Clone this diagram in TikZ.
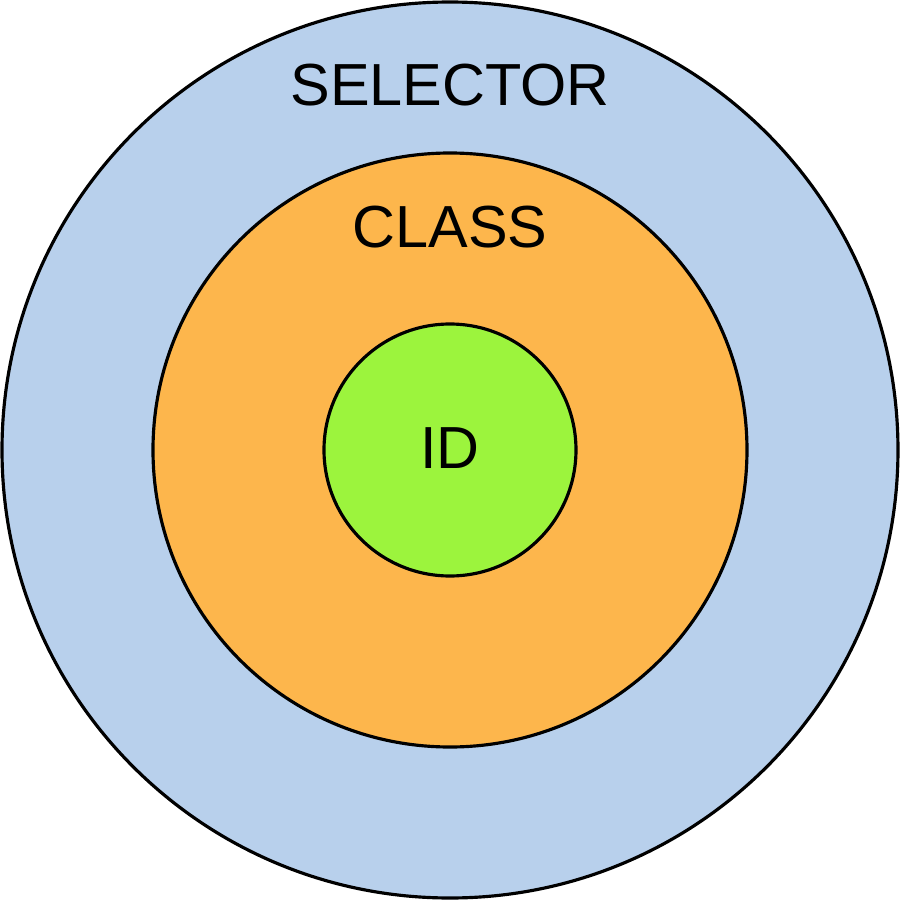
\documentclass[tikz,border=0pt]{standalone}
\usepackage{fontspec}
\setmainfont{Liberation Sans}
\definecolor{selblue}{RGB}{184,208,236}
\definecolor{clsorange}{RGB}{253,182,76}
\definecolor{idgreen}{RGB}{156,244,61}
\tikzset{ring/.style={draw=black,line width=0.9pt},
  lbl/.style={font=\fontsize{16.9}{20}\selectfont,inner sep=0pt}}
\begin{document}
\begin{tikzpicture}
\useasboundingbox (-4.5,-4.5) rectangle (4.5,4.5);
\fill[selblue,ring] (0,0) circle (4.48);
\fill[clsorange,ring] (0,0) circle (2.97);
\fill[idgreen,ring] (0,0) circle (1.26);
\node[lbl] (sel) at (0,3.65) {SELECTOR};
\node[lbl] (cls) at (0,2.23) {CLASS};
\node[lbl] (id) at (0,0.02) {ID};
\end{tikzpicture}
\end{document}
